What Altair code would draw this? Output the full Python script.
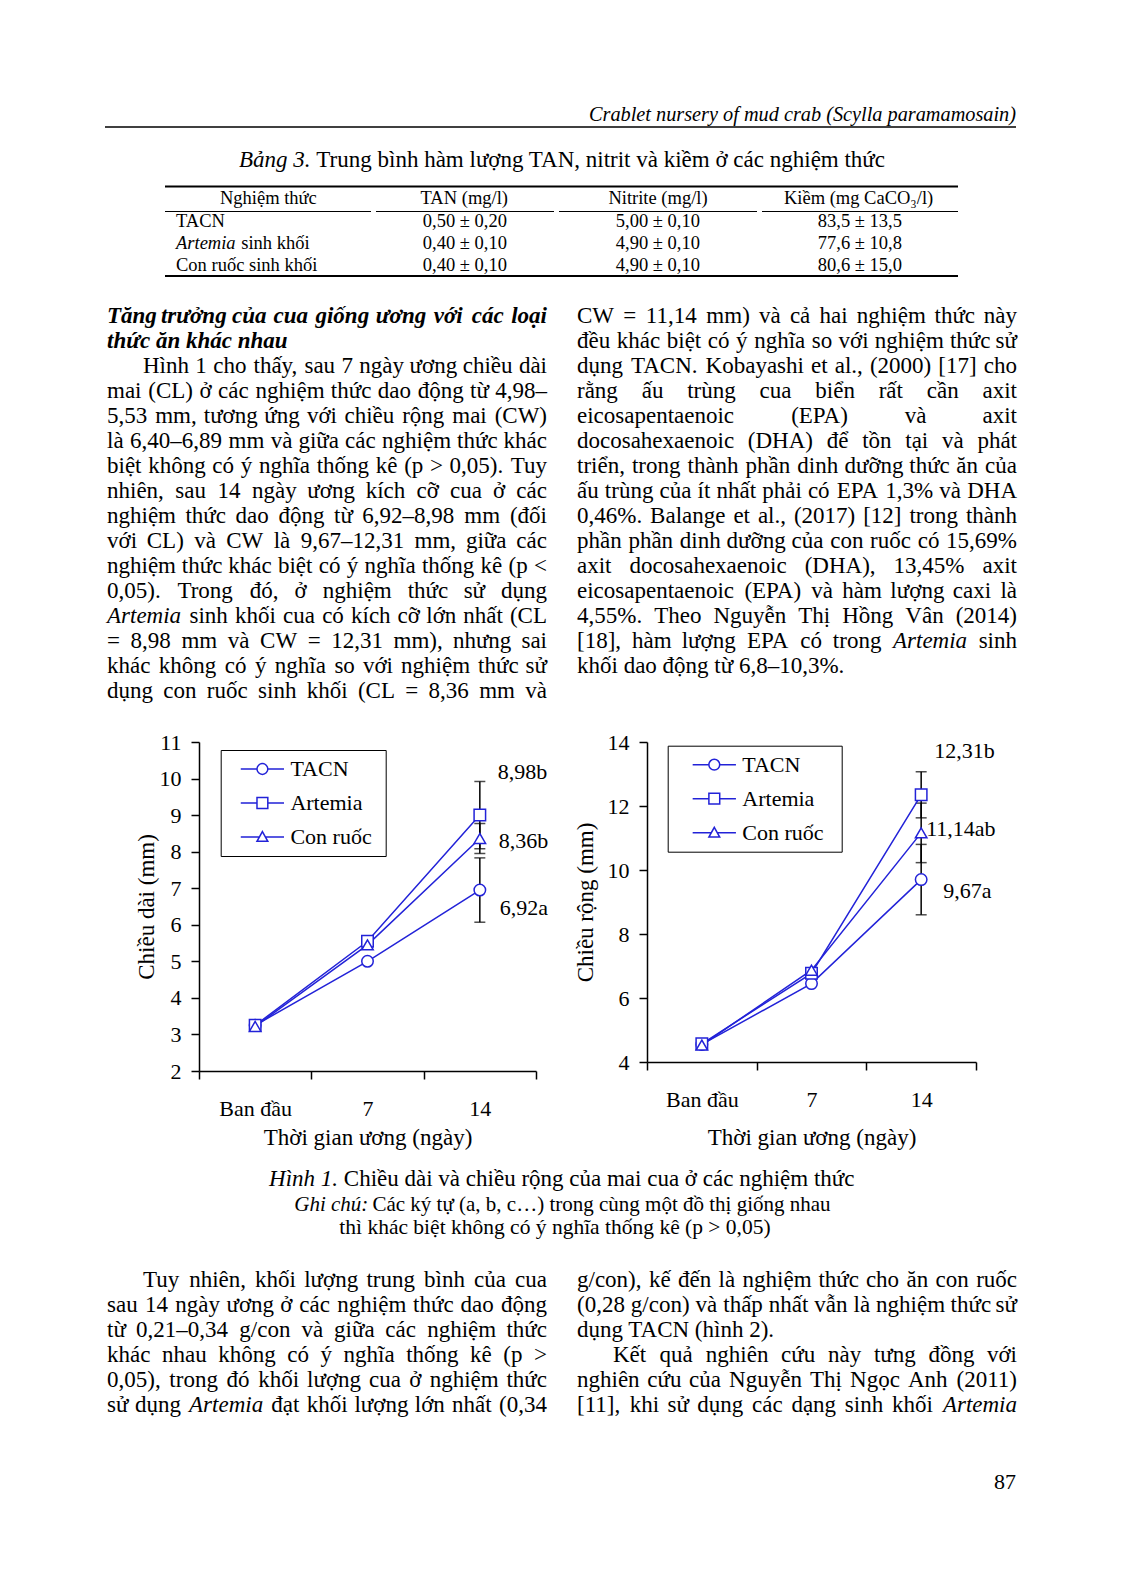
import unicodedata
import altair as alt
import pandas as pd

# ---------------- chart data ----------------
days = ["Ban đầu", "7", "14"]
series = ["TACN", "Artemia", "Con ruốc"]

cl_tacn = [3.25, 5.00, 6.95]
cl_artemia = [3.25, 5.55, 9.00]
cl_conruoc = [3.22, 5.45, 8.36]
cl_sd_day14 = [0.88, 0.92, 0.41]
cl_notes = ["6,92a", "8,98b", "8,36b"]
cl_note_at = [6.47, 10.18, 8.29]
cl_ticks = [2, 3, 4, 5, 6, 7, 8, 9, 10, 11]

cw_tacn = [4.55, 6.45, 9.70]
cw_artemia = [4.57, 6.77, 12.35]
cw_conruoc = [4.53, 6.87, 11.16]
cw_sd_day14 = [1.10, 0.72, 0.93]
cw_notes = ["9,67a", "12,31b", "11,14ab"]
cw_note_at = [9.34, 13.72, 11.27]
cw_ticks = [4, 6, 8, 10, 12, 14]

# ---------------- page text ----------------
HEADER = "Crablet nursery of mud crab (Scylla paramamosain)"
TABLE_TITLE = "*Bảng* *3.* Trung bình hàm lượng TAN, nitrit và kiềm ở các nghiệm thức"
TABLE_HEAD = ["Nghiệm thức", "TAN (mg/l)", "Nitrite (mg/l)", "Kiềm (mg CaCO₃/l)"]
TABLE_ROWS = [
    ["TACN", "0,50 ± 0,20", "5,00 ± 0,10", "83,5 ± 13,5"],
    ["*Artemia* sinh khối", "0,40 ± 0,10", "4,90 ± 0,10", "77,6 ± 10,8"],
    ["Con ruốc sinh khối", "0,40 ± 0,10", "4,90 ± 0,10", "80,6 ± 15,0"],
]
HEADING = ["Tăng trưởng của cua giống ương với các loại", "thức ăn khác nhau"]
LEFT_TOP = [
    "Hình 1 cho thấy, sau 7 ngày ương chiều dài",
    "mai (CL) ở các nghiệm thức dao động từ 4,98–",
    "5,53 mm, tương ứng với chiều rộng mai (CW)",
    "là 6,40–6,89 mm và giữa các nghiệm thức khác",
    "biệt không có ý nghĩa thống kê (p > 0,05). Tuy",
    "nhiên, sau 14 ngày ương kích cỡ cua ở các",
    "nghiệm thức dao động từ 6,92–8,98 mm (đối",
    "với CL) và CW là 9,67–12,31 mm, giữa các",
    "nghiệm thức khác biệt có ý nghĩa thống kê (p <",
    "0,05). Trong đó, ở nghiệm thức sử dụng",
    "*Artemia* sinh khối cua có kích cỡ lớn nhất (CL",
    "= 8,98 mm và CW = 12,31 mm), nhưng sai",
    "khác không có ý nghĩa so với nghiệm thức sử",
    "dụng con ruốc sinh khối (CL = 8,36 mm và",
]
RIGHT_TOP = [
    "CW = 11,14 mm) và cả hai nghiệm thức này",
    "đều khác biệt có ý nghĩa so với nghiệm thức sử",
    "dụng TACN. Kobayashi et al., (2000) [17] cho",
    "rằng ấu trùng cua biển rất cần axit",
    "eicosapentaenoic (EPA) và axit",
    "docosahexaenoic (DHA) để tồn tại và phát",
    "triển, trong thành phần dinh dưỡng thức ăn của",
    "ấu trùng của ít nhất phải có EPA 1,3% và DHA",
    "0,46%. Balange et al., (2017) [12] trong thành",
    "phần phần dinh dưỡng của con ruốc có 15,69%",
    "axit docosahexaenoic (DHA), 13,45% axit",
    "eicosapentaenoic (EPA) và hàm lượng caxi là",
    "4,55%. Theo Nguyễn Thị Hồng Vân (2014)",
    "[18], hàm lượng EPA có trong *Artemia* sinh",
    "khối dao động từ 6,8–10,3%.",
]
CAPTION = [
    "*Hình* *1.* Chiều dài và chiều rộng của mai cua ở các nghiệm thức",
    "*Ghi* *chú:* Các ký tự (a, b, c…) trong cùng một đồ thị giống nhau",
    "thì khác biệt không có ý nghĩa thống kê (p > 0,05)",
]
LEFT_BOTTOM = [
    "Tuy nhiên, khối lượng trung bình của cua",
    "sau 14 ngày ương ở các nghiệm thức dao động",
    "từ 0,21–0,34 g/con và giữa các nghiệm thức",
    "khác nhau không có ý nghĩa thống kê (p >",
    "0,05), trong đó khối lượng cua ở nghiệm thức",
    "sử dụng *Artemia* đạt khối lượng lớn nhất (0,34",
]
RIGHT_BOTTOM = [
    "g/con), kế đến là nghiệm thức cho ăn con ruốc",
    "(0,28 g/con) và thấp nhất vẫn là nghiệm thức sử",
    "dụng TACN (hình 2).",
    "Kết quả nghiên cứu này tưng đồng với",
    "nghiên cứu của Nguyễn Thị Ngọc Anh (2011)",
    "[11], khi sử dụng các dạng sinh khối *Artemia*",
]
PAGE_NO = "87"

# ---------------- layout / style ----------------
BLUE = "#2222D8"
FONT = "Liberation Serif"
OX, OY = 199, 742          # page position of left plot area
LW, LH = 337, 329
RX = 647
RW, RH = 329, 320
L0, L1, R0, R1 = 107, 547, 577, 1017
IND, LINE = 36, 25
BODY = 23

# approximate Times glyph advance widths (per 1000 em)
CWID = {" ": 250, "!": 333, "%": 833, "(": 333, ")": 333, ",": 250, "-": 333,
        ".": 250, "/": 278, ":": 278, ";": 278, "<": 564, "=": 564, ">": 564,
        "[": 333, "]": 333, "–": 500, "…": 1000, "±": 564, "đ": 500, "Đ": 722}
for c in "0123456789":
    CWID[c] = 500
for c, wv in zip("ABCDEFGHIJKLMNOPQRSTUVWXYZ",
                 [722, 667, 667, 722, 611, 556, 722, 722, 333, 389, 722, 611, 889,
                  722, 722, 556, 722, 667, 556, 611, 722, 722, 944, 722, 722, 611]):
    CWID[c] = wv
for c, wv in zip("abcdefghijklmnopqrstuvwxyz",
                 [444, 500, 444, 500, 444, 333, 500, 500, 278, 278, 500, 278, 778,
                  500, 500, 500, 500, 333, 389, 278, 500, 500, 722, 500, 500, 444]):
    CWID[c] = wv


def tw(s, fs):
    tot = 0
    for ch in s:
        base = unicodedata.normalize("NFD", ch)[0]
        tot += CWID.get(ch, CWID.get(base, 500))
    return tot * fs / 1000.0


rows = []


def add(t, x, y, fs, st, al):
    rows.append({"t": t, "px": x - OX, "py": y - OY, "fs": fs, "st": st, "al": al})


def words_of(line, base):
    out = []
    for w in line.split(" "):
        if len(w) > 1 and w.startswith("*") and w.endswith("*"):
            out.append((w[1:-1], "i"))
        else:
            out.append((w, base))
    return out


def put_runs(words, x, y, fs):
    runs = []
    for w, st in words:
        if runs and runs[-1][1] == st:
            runs[-1][0] += " " + w
        else:
            runs.append([w, st])
    for text, st in runs:
        add(text, x, y, fs, st, "left")
        x += tw(text, fs) + tw(" ", fs)


def line_left(line, x, y, fs, base="n"):
    put_runs(words_of(line, base), x, y, fs)


def line_center(line, cx, y, fs, base="n"):
    words = words_of(line, base)
    total = tw(" ".join(w for w, _ in words), fs)
    put_runs(words, cx - total / 2, y, fs)


def line_justify(line, x0, x1, y, fs, base="n"):
    words = words_of(line, base)
    ws = [tw(w, fs) for w, _ in words]
    n = len(words)
    if n < 2:
        put_runs(words, x0, y, fs)
        return
    gap = (x1 - x0 - sum(ws)) / (n - 1)
    x = x0
    for i, ((w, st), wd) in enumerate(zip(words, ws)):
        if i == 0:
            add(w, x0, y, fs, st, "left")
        elif i == n - 1:
            add(w, x1, y, fs, st, "right")
        else:
            add(w, x + wd / 2, y, fs, st, "center")
        x += wd + gap


def block(lines, x0, x1, y0, fs, plain=(), indent=(), base="n"):
    for k, line in enumerate(lines):
        xs = x0 + (IND if k in indent else 0)
        y = y0 + k * LINE
        if k in plain:
            line_left(line, xs, y, fs, base)
        else:
            line_justify(line, xs, x1, y, fs, base)


add(HEADER, 1016, 121, 20.3, "i", "right")
line_center(TABLE_TITLE, 562, 167, BODY)
col_centers = [268, 465, 658, 860]
for c, h in zip(col_centers, TABLE_HEAD):
    line_center(h, c, 204, 18.5)
for r, yb in zip(TABLE_ROWS, [227, 249, 271]):
    line_left(r[0], 176, yb, 18.5)
    for c, v in zip(col_centers[1:], r[1:]):
        line_center(v, c, yb, 18.5)
block(HEADING, L0, L1, 323, BODY, plain={1}, base="bi")
block(LEFT_TOP, L0, L1, 373, BODY, indent={0})
block(RIGHT_TOP, R0, R1, 323, BODY, plain={14})
line_center(CAPTION[0], 561, 1186, BODY)
line_center(CAPTION[1], 562, 1211, 21)
line_center(CAPTION[2], 555, 1234, 21.5)
block(LEFT_BOTTOM, L0, L1, 1287, BODY, indent={0})
block(RIGHT_BOTTOM, R0, R1, 1287, BODY, plain={2}, indent={3})
add(PAGE_NO, 1016, 1489, 22, "n", "right")

tdf = pd.DataFrame(rows)

rule_rows = [(105, 1016, 127, 1.3), (165, 958, 186.5, 2.0), (165, 958, 276, 2.0),
             (165, 371, 211.5, 1.0), (376, 554, 211.5, 1.0), (559, 757, 211.5, 1.0),
             (762, 958, 211.5, 1.0)]
rdf = pd.DataFrame([{"x1": a - OX, "x2": b - OX, "y": c - OY, "w": d} for a, b, c, d in rule_rows])

page_layers = [
    alt.Chart(alt.Data(values=[{}])).mark_rect(color="white").encode(
        x=alt.value(8 - OX), x2=alt.value(1114 - OX), y=alt.value(8 - OY), y2=alt.value(1586 - OY)),
    alt.Chart(rdf).mark_rule(color="black").encode(
        x=alt.X("x1:Q", scale=None, axis=None), x2="x2:Q",
        y=alt.Y("y:Q", scale=None, axis=None),
        strokeWidth=alt.StrokeWidth("w:Q", scale=None, legend=None)),
]
for (st, al), g in tdf.groupby(["st", "al"]):
    page_layers.append(
        alt.Chart(g).mark_text(
            font=FONT, align=al, baseline="alphabetic", color="black",
            fontStyle="italic" if st in ("i", "bi") else "normal",
            fontWeight="bold" if st == "bi" else "normal",
        ).encode(
            x=alt.X("px:Q", scale=None, axis=None),
            y=alt.Y("py:Q", scale=None, axis=None),
            text="t:N",
            size=alt.Size("fs:Q", scale=None, legend=None),
        )
    )

LEGEND_PATHS = [
    "M-4,0L-1,0M1,0L4,0M-1,0A1,1,0,1,0,1,0A1,1,0,1,0,-1,0Z",
    "M-4,0L-1,0M1,0L4,0M-1,-1L1,-1L1,1L-1,1Z",
    "M-4,0L-0.56,0M0.56,0L4,0M0,-1L1,0.8L-1,0.8Z",
]


def panel(vals, sd14, notes, note_at, note_dx, ydom, yticks, ytitle, w, h,
          ytitle_x, xtitle_y, leg_x, leg_y, sym_off, lab_off, extra_right):
    recs = []
    for s, v in zip(series, vals):
        for i, d in enumerate(days):
            recs.append({"series": s, "xi": i, "day": d, "v": v[i]})
    df = pd.DataFrame(recs)
    last = len(days) - 1
    err = pd.DataFrame({"series": series, "xi": [last] * 3,
                        "m": [v[last] for v in vals], "sd": sd14})
    err["lo"] = err["m"] - err["sd"]
    err["hi"] = err["m"] + err["sd"]

    label_expr = " : ".join(f"datum.value === {i} ? '{d}'" for i, d in enumerate(days)) + " : ''"
    xscale = alt.Scale(domain=[-0.5, len(days) - 0.5], nice=False, zero=False)
    xaxis = alt.Axis(
        values=[k / 2 - 0.5 for k in range(2 * len(days) + 1)],
        labelExpr=label_expr,
        tickOpacity={"condition": {"test": "datum.value % 1 === 0", "value": 0}, "value": 1},
        labelOverlap=False, labelFlush=False, labelBound=False,
        labelBaseline="alphabetic", labelPadding=36,
        title="Thời gian ương (ngày)", titleX=w / 2, titleY=xtitle_y,
        titleBaseline="alphabetic", titleAlign="center", zindex=1)
    yscale = alt.Scale(domain=ydom, nice=False, zero=False)
    yaxis = alt.Axis(values=yticks, title=ytitle, titleX=ytitle_x, titleY=h / 2,
                     titleAngle=270, titleBaseline="alphabetic", titleAlign="center",
                     labelPadding=10, zindex=1)
    X = alt.X("xi:Q", scale=xscale, axis=xaxis)

    def Y(f):
        return alt.Y(f, scale=yscale, axis=yaxis)

    e = alt.Chart(err)
    base = alt.Chart(df)
    layers = [
        e.mark_rule(color="black", strokeWidth=1.5).encode(x=X, y=Y("lo:Q"), y2="hi:Q"),
        e.mark_tick(orient="horizontal", size=11, thickness=1.5, color="black").encode(x=X, y=Y("lo:Q")),
        e.mark_tick(orient="horizontal", size=11, thickness=1.5, color="black").encode(x=X, y=Y("hi:Q")),
        base.mark_line(color=BLUE, strokeWidth=1.5).encode(x=X, y=Y("v:Q"), detail="series:N"),
        base.mark_point(filled=True, fill="white", stroke=BLUE, strokeWidth=1.5, size=132, opacity=1).encode(
            x=X, y=Y("v:Q"),
            shape=alt.Shape("series:N", scale=alt.Scale(domain=series, range=["circle", "square", "triangle-up"]),
                            legend=None)),
        base.mark_point(size=117, opacity=0, color=BLUE).encode(
            x=X, y=Y("v:Q"),
            shape=alt.Shape("series:N", scale=alt.Scale(domain=series, range=LEGEND_PATHS),
                            legend=alt.Legend(
                                title="\u00a0", titleOrient="right", titlePadding=extra_right,
                                titleFontSize=1, titleColor="white",
                                orient="none", legendX=leg_x, legendY=leg_y,
                                padding=8, strokeColor="black", fillColor="white",
                                labelFont=FONT, labelFontSize=22, labelColor="black",
                                labelLimit=300, labelOffset=lab_off, symbolOffset=sym_off,
                                symbolSize=117, symbolStrokeColor=BLUE, symbolStrokeWidth=1.5,
                                symbolOpacity=1, rowPadding=12, zindex=1))),
    ]
    for t, yv, dx in zip(notes, note_at, note_dx):
        layers.append(
            alt.Chart(pd.DataFrame({"xi": [last], "ly": [yv], "t": [t]})).mark_text(
                align="left", baseline="middle", dx=dx, font=FONT, fontSize=22, color="black"
            ).encode(x=X, y=Y("ly:Q"), text="t:N"))
    return layers


left_layers = panel([cl_tacn, cl_artemia, cl_conruoc], cl_sd_day14, cl_notes, cl_note_at,
                    [20, 18, 19], [2, 11], cl_ticks, "Chiều dài (mm)", LW, LH,
                    -46, 73, 21.7, 8, 22.7, 17, 6)
right_layers = panel([cw_tacn, cw_artemia, cw_conruoc], cw_sd_day14, cw_notes, cw_note_at,
                     [22, 13, 5], [4, 14], cw_ticks, "Chiều rộng (mm)", RW, RH,
                     -55, 82, 20.7, 3.7, 27.6, 17, 10)

left = alt.layer(*page_layers, *left_layers).resolve_scale(shape="independent").properties(width=LW, height=LH)
right = alt.layer(*right_layers).resolve_scale(shape="independent").properties(width=RW, height=RH)

chart = alt.hconcat(left, right, spacing=RX - (OX + LW), bounds="flush").properties(
    padding=0, background="white"
).configure_view(strokeWidth=0).configure_axis(
    domainColor="black", domainWidth=1.5, tickColor="black", tickWidth=1.5, tickSize=8,
    labelFont=FONT, labelFontSize=22, labelColor="black",
    titleFont=FONT, titleFontSize=23, titleFontWeight="normal", titleColor="black", grid=False,
)

chart.save("out.html", embed_options={"renderer": "svg", "actions": False})
